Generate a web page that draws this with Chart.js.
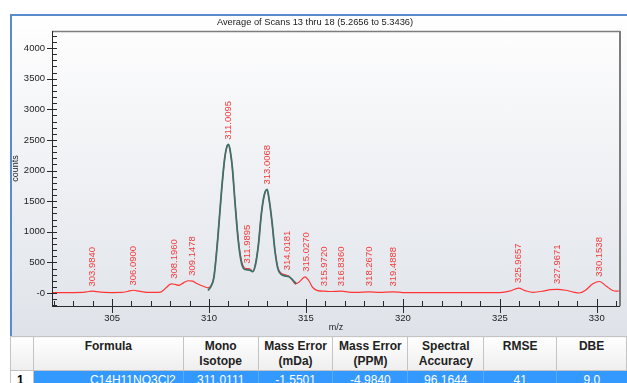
<!DOCTYPE html>
<html>
<head>
<meta charset="utf-8">
<script src="https://cdn.jsdelivr.net/npm/chart.js@4"></script>
<style>
  body { margin: 0; width: 627px; height: 383px; overflow: hidden; background: #fff; position: relative;
         font-family: "Liberation Sans", Arial, sans-serif; }
  #panel { position: absolute; left: 10px; top: 14px; width: 617px; height: 322px; box-sizing: border-box;
           border-left: 2px solid #5a8bcc; border-top: 2px solid #5a8bcc;
           background: linear-gradient(#ffffff 0%, #fbfbfc 12%, #dfe3e9 100%); }
  #chart { position: absolute; left: 10px; top: 0; }
  table { position: absolute; left: 10px; top: 336px; border-collapse: collapse; table-layout: fixed; }
  th { height: 31px; padding: 2px 0 0 0; vertical-align: top; font-size: 12px; line-height: 15px; font-weight: bold;
       color: #222; border: 1px solid #c4c4c4; background: linear-gradient(#ffffff, #eeeeee); text-align: center; }
  td { height: 18px; padding: 0; font-size: 12px; color: #fff; background: #3399ff; text-align: center;
       border-left: 1px solid #5aaaff; }
  td.num { background: #fff; color: #000; font-weight: bold; text-align: left; padding-left: 6px; border: 1px solid #c4c4c4; }
  td.formula { text-align: right; padding-right: 7px; }
</style>
</head>
<body>
<div id="panel"></div>
<canvas id="chart" width="634" height="336"></canvas>
<table>
  <colgroup>
    <col style="width:23px"><col style="width:150px"><col style="width:75px"><col style="width:75px">
    <col style="width:75px"><col style="width:76px"><col style="width:73px"><col style="width:70px">
  </colgroup>
  <tr><th></th><th>Formula</th><th>Mono<br>Isotope</th><th>Mass Error<br>(mDa)</th><th>Mass Error<br>(PPM)</th>
      <th>Spectral<br>Accuracy</th><th>RMSE</th><th>DBE</th></tr>
  <tr><td class="num">1</td><td class="formula">C14H11NO3Cl2</td><td>311.0111</td><td>-1.5501</td><td>-4.9840</td>
      <td>96.1644</td><td>41</td><td>9.0</td></tr>
</table>
<script>
// measured profile spectrum (red)
const mzProfile = [301.9, 302.5, 303.0, 303.5, 303.8, 304.0, 304.2, 304.6, 305.0, 305.5, 305.8, 306.1, 306.4, 306.8,
  307.2, 307.5, 307.8, 308.05, 308.25, 308.45, 308.7, 308.95, 309.15, 309.4, 309.7, 309.95, 310.1, 310.25, 310.45,
  310.65, 310.82, 310.93, 311.01, 311.1, 311.2, 311.35, 311.5, 311.65, 311.8, 311.95, 312.1, 312.25, 312.4, 312.55,
  312.7, 312.85, 312.98, 313.1, 313.25, 313.4, 313.55, 313.7, 313.9, 314.1, 314.25, 314.45, 314.65, 314.95, 315.15,
  315.35, 315.6, 315.97, 316.3, 316.84, 317.2, 317.6, 318.27, 318.8, 319.49, 320, 321, 322, 323, 324, 325.0, 325.5,
  325.97, 326.3, 326.7, 327.3, 327.6, 327.97, 328.4, 328.8, 329.1, 329.4, 329.8, 330.15, 330.5, 330.8, 331.0, 331.2];
const countsProfile = [8, 8, 8, 10, 25, 32, 22, 10, 8, 10, 25, 45, 30, 12,
  10, 15, 90, 150, 140, 125, 170, 200, 195, 150, 110, 85, 120, 260, 900,
  1680, 2220, 2390, 2420, 2300, 2050, 1450, 900, 560, 420, 400, 395, 350, 480, 800,
  1300, 1600, 1690, 1520, 1150, 700, 420, 330, 300, 280, 230, 150, 180, 265, 200,
  90, 40, 30, 25, 30, 15, 12, 18, 12, 18, 8, 6, 8, 6, 5, 8, 30,
  80, 40, 10, 35, 55, 60, 45, 15, 0, 40, 150, 188, 110, 45, 30, 35];

// theoretical isotope pattern (teal)
const mzFit = [309.95, 310.1, 310.25, 310.45, 310.65, 310.82, 310.93, 311.01, 311.1, 311.2, 311.35, 311.5, 311.65,
  311.8, 311.95, 312.1, 312.25, 312.4, 312.55, 312.7, 312.85, 313.0, 313.1, 313.25, 313.4, 313.55, 313.7, 313.9,
  314.1, 314.3, 314.5];
const countsFit = [40, 110, 250, 880, 1690, 2230, 2400, 2425, 2310, 2060, 1440, 880, 530,
  395, 380, 375, 350, 470, 790, 1290, 1600, 1690, 1530, 1160, 690, 400, 310, 280,
  270, 220, 150];

// peak annotations
const peakMz = [303.9840, 306.0900, 308.1960, 309.1478, 311.0095, 311.9895, 313.0068, 314.0181, 315.0270,
  315.9720, 316.8360, 318.2670, 319.4888, 325.9657, 327.9671, 330.1538];
const peakCounts = [25, 40, 150, 200, 2420, 400, 1690, 290, 265, 30, 30, 30, 25, 80, 65, 185];

// labelled ticks
const xTickValues = [305, 310, 315, 320, 325, 330];
const yTickValues = [0, 500, 1000, 1500, 2000, 2500, 3000, 3500, 4000];

const FONT = "'Liberation Sans', Arial, sans-serif";

const peakLabelPlugin = {
  id: 'peakLabels',
  afterDatasetsDraw(chart) {
    const ctx = chart.ctx, xs = chart.scales.x, ys = chart.scales.y;
    ctx.save();
    ctx.fillStyle = '#f23c3c';
    ctx.font = '9.5px ' + FONT;
    ctx.textAlign = 'left';
    ctx.textBaseline = 'middle';
    peakMz.forEach((m, i) => {
      ctx.save();
      ctx.translate(xs.getPixelForValue(m), ys.getPixelForValue(peakCounts[i]) - 5);
      ctx.rotate(-Math.PI / 2);
      ctx.fillText(m.toFixed(4), 0, 0);
      ctx.restore();
    });
    ctx.restore();
  }
};

// frame + tick marks (major ones cross the axis, minor ones sit inside)
const axesPlugin = {
  id: 'axesFrame',
  afterDraw(chart) {
    const ctx = chart.ctx, a = chart.chartArea, xs = chart.scales.x, ys = chart.scales.y;
    ctx.save();
    ctx.strokeStyle = '#7d7d7d';
    ctx.lineWidth = 1.5;
    ctx.beginPath();
    ctx.moveTo(a.left, a.top + 0.5); ctx.lineTo(a.right, a.top + 0.5);
    ctx.stroke();
    ctx.lineWidth = 2;
    ctx.beginPath();
    ctx.moveTo(a.right, a.top); ctx.lineTo(a.right, a.bottom);
    ctx.stroke();

    ctx.strokeStyle = '#2a2a2a';
    ctx.lineWidth = 1;
    ctx.beginPath();
    ctx.moveTo(Math.round(a.left) + 0.5, a.top); ctx.lineTo(Math.round(a.left) + 0.5, a.bottom);
    ctx.moveTo(a.left, Math.round(a.bottom) + 0.5); ctx.lineTo(a.right, Math.round(a.bottom) + 0.5);
    for (let v = Math.ceil(ys.min / 100) * 100; v <= ys.max; v += 100) {
      const y = Math.round(ys.getPixelForValue(v)) + 0.5;
      const major = v % 500 === 0;
      ctx.moveTo(a.left - (major ? 5 : 0), y);
      ctx.lineTo(a.left + 5, y);
    }
    for (let v = Math.ceil(xs.min); v <= xs.max; v += 1) {
      const x = Math.round(xs.getPixelForValue(v)) + 0.5;
      const major = v % 5 === 0;
      ctx.moveTo(x, a.bottom - (major ? 7 : 5));
      ctx.lineTo(x, a.bottom + (major ? 7 : 0));
    }
    ctx.stroke();
    ctx.restore();
  }
};

new Chart(document.getElementById('chart'), {
  type: 'scatter',
  data: {
    datasets: [
      {
        label: 'Theoretical',
        data: mzFit.map((m, i) => ({ x: m, y: countsFit[i] })),
        showLine: true,
        borderColor: '#3f716c',
        borderWidth: 1.8,
        pointRadius: 0,
        cubicInterpolationMode: 'monotone',
        order: 0
      },
      {
        label: 'Spectrum',
        data: mzProfile.map((m, i) => ({ x: m, y: countsProfile[i] })),
        showLine: true,
        borderColor: '#ff3535',
        borderWidth: 1.2,
        pointRadius: 0,
        cubicInterpolationMode: 'monotone',
        order: 1
      }
    ]
  },
  options: {
    responsive: false,
    animation: false,
    layout: { padding: { left: 0, right: 24, top: 0, bottom: 0 } },
    plugins: {
      legend: { display: false },
      tooltip: { enabled: false },
      title: {
        display: true,
        text: 'Average of Scans 13 thru 18 (5.2656 to 5.3436)',
        color: '#222',
        font: { family: FONT, size: 9.3, weight: 'normal', lineHeight: 1.2 },
        padding: { top: 17, bottom: 2.84 }
      }
    },
    scales: {
      x: {
        type: 'linear',
        min: 301.9,
        max: 331.2,
        afterBuildTicks(s) { s.ticks = xTickValues.map(v => ({ value: v })); },
        afterFit(s) { s.height = 30; },
        grid: { display: false, drawTicks: false },
        border: { display: false },
        ticks: {
          autoSkip: false, maxRotation: 0, padding: 7,
          color: '#222', font: { family: FONT, size: 9.5 }
        },
        title: { display: true, text: 'm/z', color: '#222', font: { family: FONT, size: 9 }, padding: { top: 0, bottom: 2.6 } }
      },
      y: {
        min: -212,
        max: 4278,
        afterBuildTicks(s) { s.ticks = yTickValues.map(v => ({ value: v })); },
        afterFit(s) { s.width = 42; },
        grid: { display: false, drawTicks: false },
        border: { display: false },
        ticks: {
          autoSkip: false, padding: 7,
          color: '#222', font: { family: FONT, size: 9.5 },
          callback: v => (v === 0 ? '-0' : String(v))
        },
        title: { display: true, text: 'counts', color: '#222', font: { family: FONT, size: 9 }, padding: { top: 0.6, bottom: 0 } }
      }
    }
  },
  plugins: [peakLabelPlugin, axesPlugin]
});
</script>
</body>
</html>
